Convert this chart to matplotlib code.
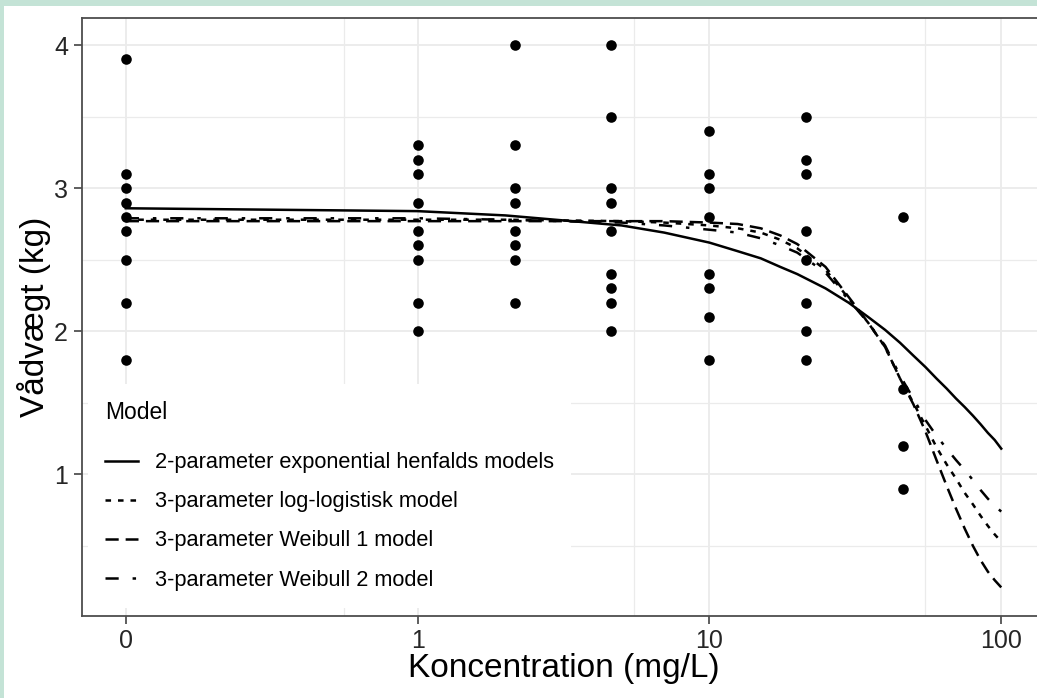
import matplotlib
matplotlib.use("Agg")
import matplotlib.pyplot as plt
from matplotlib.patches import Rectangle

plt.rcParams['font.family'] = ['Liberation Sans', 'DejaVu Sans']
plt.rcParams['lines.scale_dashes'] = False

# %% data
# concentrations (mg/L); the control (0) is drawn at the 0.1 position of the log axis
zero_pos = 0.1
conc = [0, 1, 2.15, 4.6, 10, 21.5, 46]
vadvaegt = [
    [3.9, 3.1, 3.0, 2.9, 2.8, 2.7, 2.5, 2.2, 1.8],
    [3.3, 3.2, 3.1, 2.9, 2.7, 2.6, 2.5, 2.2, 2.0],
    [4.0, 3.3, 3.0, 2.9, 2.7, 2.6, 2.5, 2.2],
    [4.0, 3.5, 3.0, 2.9, 2.7, 2.4, 2.3, 2.2, 2.0],
    [3.4, 3.1, 3.0, 2.8, 2.4, 2.3, 2.1, 1.8],
    [3.5, 3.2, 3.1, 2.7, 2.5, 2.2, 2.0, 1.8],
    [2.8, 1.6, 1.2, 0.9],
]

curve_x = [0.1, 1, 2, 5, 7, 10, 12.5, 15, 17.5, 20, 25, 30, 35, 40, 45, 50,
           55, 60, 65, 70, 75, 80, 85, 90, 95, 100]
exp2 = [2.86, 2.84, 2.81, 2.74, 2.69, 2.62, 2.56, 2.51, 2.45, 2.40, 2.30, 2.20, 2.10,
        2.01, 1.92, 1.83, 1.75, 1.67, 1.60, 1.53, 1.47, 1.41, 1.35, 1.29, 1.24, 1.18]
ll3 = [2.78, 2.78, 2.78, 2.77, 2.76, 2.74, 2.72, 2.69, 2.64, 2.58, 2.43, 2.23, 2.06,
       1.89, 1.67, 1.50, 1.34, 1.19, 1.07, 0.97, 0.87, 0.79, 0.71, 0.64, 0.58, 0.53]
w1 = [2.77, 2.77, 2.77, 2.77, 2.77, 2.76, 2.75, 2.72, 2.67, 2.61, 2.45, 2.24, 2.06,
      1.89, 1.67, 1.49, 1.30, 1.10, 0.92, 0.76, 0.62, 0.50, 0.40, 0.32, 0.26, 0.21]
w2 = [2.79, 2.79, 2.78, 2.76, 2.74, 2.71, 2.69, 2.65, 2.60, 2.55, 2.41, 2.22, 2.06,
      1.90, 1.69, 1.53, 1.38, 1.27, 1.18, 1.10, 1.03, 0.96, 0.89, 0.83, 0.78, 0.74]

model_labels = ['2-parameter exponential henfalds models',
                '3-parameter log-logistisk model',
                '3-parameter Weibull 1 model',
                '3-parameter Weibull 2 model']
x_ticks = [0.1, 1, 10, 100]
x_ticklabels = ['0', '1', '10', '100']
x_minor = [0.56, 5.5, 55]
y_ticks = [1, 2, 3, 4]
y_minor = [0.5, 1.5, 2.5, 3.5]

# %% figure
W, H = 1037, 698
fig = plt.figure(figsize=(W / 100, H / 100), dpi=100)
fig.patch.set_facecolor('#c4e3d6')
fig.add_artist(Rectangle((4 / W, 0), 1, 1 - 6 / H, transform=fig.transFigure,
                         facecolor='white', edgecolor='none', zorder=-5))

ax = fig.add_axes([82 / W, 1 - 616 / H, (1045 - 82) / W, (616 - 18) / H])
ax.set_xscale('log')
ax.set_xlim(10 ** -1.15, 10 ** 2.15)
ax.set_ylim(0.01, 4.19)

# grid (theme_bw look)
grid_col = '#ebebeb'
for v in x_ticks:
    ax.axvline(v, color=grid_col, lw=1.3, zorder=0)
for v in x_minor:
    ax.axvline(v, color=grid_col, lw=0.9, zorder=0)
for v in y_ticks:
    ax.axhline(v, color=grid_col, lw=1.3, zorder=0)
for v in y_minor:
    ax.axhline(v, color=grid_col, lw=0.9, zorder=0)

# curves
styles = ['-', (0, (4, 5)), (0, (9.5, 5)), (0, (9.5, 10, 2.5, 10))]
for ys, ls, lab in zip([exp2, ll3, w1, w2], styles, model_labels):
    ax.plot(curve_x, ys, color='black', lw=1.8, linestyle=ls, label=lab, zorder=3)

# observations
for c, vals in zip(conc, vadvaegt):
    xpos = zero_pos if c == 0 else c
    ax.scatter([xpos] * len(vals), vals, s=58, color='black', linewidths=0, zorder=4)

ax.set_xticks(x_ticks)
ax.set_xticklabels(x_ticklabels)
ax.xaxis.set_minor_locator(matplotlib.ticker.NullLocator())
ax.set_yticks(y_ticks)
ax.set_yticklabels([str(v) for v in y_ticks])
ax.tick_params(axis='both', length=6, width=1.1, color='#333333',
               labelcolor='#262626', labelsize=18, pad=4)
ax.tick_params(axis='x', pad=3)

for sp in ax.spines.values():
    sp.set_color('#4d4d4d')
    sp.set_linewidth(1.3)

ax.set_xlabel('Koncentration (mg/L)', fontsize=24, labelpad=0, color='black')
ax.set_ylabel('Vådvægt (kg)', fontsize=24, labelpad=2, color='black')

leg = ax.legend(loc='lower left', bbox_to_anchor=(88 / W, 1 - 608 / H),
                bbox_transform=fig.transFigure, title='Model',
                fontsize=15.7, title_fontsize=16.5, alignment='left',
                frameon=True, fancybox=False, framealpha=1,
                facecolor='white', edgecolor='none',
                handlelength=1.5, handletextpad=0.75, labelspacing=0.83,
                borderpad=0.8, borderaxespad=0)
# a little more room between the title and the entries
leg._legend_box.sep = 0.83 * 15.7 + 7
leg.set_zorder(5)

fig.savefig('out.png', dpi=100, facecolor=fig.get_facecolor())
